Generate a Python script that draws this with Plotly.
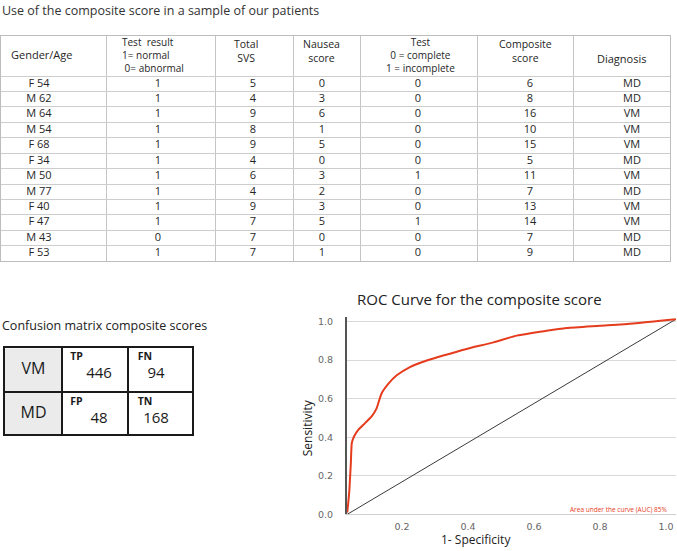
import plotly.graph_objects as go

# ---------------- data ----------------
gender_age = ["F 54", "M 62", "M 64", "M 54", "F 68", "F 34", "M 50", "M 77", "F 40", "F 47", "M 43", "F 53"]
test_result = [1, 1, 1, 1, 1, 1, 1, 1, 1, 1, 0, 1]
total_svs = [5, 4, 9, 8, 9, 4, 6, 4, 9, 7, 7, 7]
nausea_score = [0, 3, 6, 1, 5, 0, 3, 2, 3, 5, 0, 1]
test_complete = [0, 0, 0, 0, 0, 0, 1, 0, 0, 1, 0, 0]
composite_score = [6, 8, 16, 10, 15, 5, 11, 7, 13, 14, 7, 9]
diagnosis = ["MD", "MD", "VM", "VM", "VM", "MD", "VM", "MD", "VM", "VM", "MD", "MD"]

header_lines = [["Gender/Age"], ["Test  result", "1= normal", " 0= abnormal"], ["Total", "SVS"],
                ["Nausea", "score"], ["Test", "0 = complete", "1 = incomplete"],
                ["Composite", "score"], ["Diagnosis"]]

cm_rows = ["VM", "MD"]
cm_labels = [["TP", "FN"], ["FP", "TN"]]
cm_values = [[446, 94], [48, 168]]

roc_fpr = [0.034, 0.040, 0.045, 0.048, 0.055, 0.068, 0.088, 0.108, 0.123, 0.138, 0.159, 0.184,
           0.224, 0.275, 0.325, 0.396, 0.477, 0.548, 0.638, 0.699, 0.800, 0.901, 1.030]
roc_tpr = [0.009, 0.114, 0.268, 0.371, 0.405, 0.439, 0.473, 0.508, 0.550, 0.627, 0.678, 0.721,
           0.764, 0.798, 0.824, 0.858, 0.892, 0.927, 0.952, 0.966, 0.978, 0.990, 1.012]
chance_x = [0.034, 1.030]
chance_y = [0.0, 1.012]
x_ticks = [0.2, 0.4, 0.6, 0.8, 1.0]
y_ticks = [0.0, 0.2, 0.4, 0.6, 0.8, 1.0]
auc_text = "Area under the curve (AUC) 85%"

# ---------------- layout constants ----------------
W, H = 677, 551
FONT = "Open Sans"
TXT = "#262626"

col_edges = [1, 106, 215, 293, 360, 477, 573, 670]
tbl_top, hdr_bottom, tbl_bottom = 35, 76, 263
n_rows = len(gender_age)
row_h = (tbl_bottom - hdr_bottom) / n_rows
row_edges = [hdr_bottom + row_h * i for i in range(n_rows + 1)]
row_centers = [hdr_bottom + row_h * (i + 0.5) for i in range(n_rows)]
data_x = [39, 158, 253, 322, 418, 530, 632]
hdr_x = [41, 120, 246, 321, 420, 525, 621]
hdr_anchor = ["center", "left", "center", "center", "center", "center", "center"]
hdr_y = [54, 55, 50.5, 50.5, 55, 50.5, 58]

cm_xe = [5, 62, 128, 192]
cm_ye = [351, 395, 438]


def px(x):
    return x / W


def py(y):
    return 1 - y / H


fig = go.Figure()

# ---------------- table ----------------
columns = [gender_age, test_result, total_svs, nausea_score, test_complete, composite_score, diagnosis]
tx, ty, tt = [], [], []
for ci, col in enumerate(columns):
    for ri, v in enumerate(col):
        tx.append(data_x[ci])
        ty.append(row_centers[ri])
        tt.append(str(v))
fig.add_trace(go.Scatter(x=tx, y=ty, text=tt, mode="text", xaxis="x2", yaxis="y2",
                         textfont=dict(family=FONT, size=11, color=TXT),
                         hoverinfo="skip", showlegend=False))

annotations = []
for ci, lines in enumerate(header_lines):
    n = len(lines)
    annotations.append(dict(x=hdr_x[ci], y=hdr_y[ci], xref="x2", yref="y2", text="<br>".join(lines),
                            showarrow=False, xanchor=hdr_anchor[ci], yanchor="middle",
                            align="left" if hdr_anchor[ci] == "left" else "center",
                            font=dict(family=FONT, size={1: 11, 2: 10.5, 3: 10}[n], color=TXT)))

# ---------------- confusion matrix ----------------
cx, cy, ct, cs = [], [], [], []
row_lab_y = [373, 418]
lab_x = [76.5, 145]
lab_y = [360, 406]
val_x = [99, 156]
val_y = [377, 423]
for r in range(2):
    cx.append((cm_xe[0] + cm_xe[1]) / 2); cy.append(row_lab_y[r]); ct.append(cm_rows[r]); cs.append(16)
    for c in range(2):
        cx.append(lab_x[c]); cy.append(lab_y[r]); ct.append("<b>" + cm_labels[r][c] + "</b>"); cs.append(10.5)
        cx.append(val_x[c]); cy.append(val_y[r]); ct.append(str(cm_values[r][c])); cs.append(15)
fig.add_trace(go.Scatter(x=cx, y=cy, text=ct, mode="text", xaxis="x3", yaxis="y3",
                         textfont=dict(family=FONT, size=cs, color="#1a1a1a"),
                         hoverinfo="skip", showlegend=False))

# ---------------- ROC ----------------
fig.add_trace(go.Scatter(x=chance_x, y=chance_y, mode="lines", line=dict(color="#3a3a3a", width=1),
                         hoverinfo="skip", showlegend=False))
fig.add_trace(go.Scatter(x=roc_fpr, y=roc_tpr, mode="lines",
                         line=dict(color="#e63c1e", width=2, shape="spline", smoothing=0.6),
                         hoverinfo="skip", showlegend=False))

annotations += [
    dict(x=0, y=py(10), xref="paper", yref="paper", text="Use of the composite score in a sample of our patients",
         showarrow=False, xanchor="left", yanchor="middle", font=dict(family=FONT, size=12.5, color="#333")),
    dict(x=0, y=py(328), xref="paper", yref="paper", text="Confusion matrix composite scores",
         showarrow=False, xanchor="left", yanchor="middle", font=dict(family=FONT, size=12.5, color="#222")),
    dict(x=px(479), y=py(301), xref="paper", yref="paper", text="ROC Curve for the composite score",
         showarrow=False, xanchor="center", yanchor="middle", font=dict(family=FONT, size=15, color="#222")),
    dict(x=px(307), y=py(432), xref="paper", yref="paper", text="Sensitivity", textangle=-90,
         showarrow=False, xanchor="center", yanchor="middle", font=dict(family=FONT, size=12, color="#222")),
    dict(x=px(476), y=py(544), xref="paper", yref="paper", text="1- Specificity",
         showarrow=False, xanchor="center", yanchor="middle", font=dict(family=FONT, size=12, color="#222")),
    dict(x=0.858, y=0.026, xref="x", yref="y", text=auc_text, showarrow=False,
         xanchor="center", yanchor="middle", font=dict(family=FONT, size=6.5, color="#e63c1e")),
]

shapes = [dict(type="rect", xref="x3", yref="y3", x0=cm_xe[0], x1=cm_xe[1], y0=cm_ye[0], y1=cm_ye[2],
               fillcolor="#ebebeb", line=dict(width=0), layer="below")]

tickfont = dict(family="DejaVu Sans", size=9.5, color="#666")
fig.update_layout(
    width=W, height=H, margin=dict(l=0, r=0, t=0, b=0),
    paper_bgcolor="white", plot_bgcolor="rgba(0,0,0,0)", showlegend=False,
    annotations=annotations, shapes=shapes,
    xaxis=dict(domain=[px(347), px(676)], range=[0.0333, 1.0303], anchor="y",
               tickvals=x_ticks, tickformat=".1f", tickfont=tickfont, showgrid=False, zeroline=False,
               showline=True, linecolor="#cfcfcf", linewidth=1,
               ticks="outside", ticklen=3, tickcolor="rgba(0,0,0,0)"),
    yaxis=dict(domain=[py(519), py(319)], range=[0, 1.026], anchor="x",
               tickvals=y_ticks, tickformat=".1f", tickfont=tickfont, showgrid=True, gridcolor="#d9d9d9",
               gridwidth=1, zeroline=False, showline=True, linecolor="#555", linewidth=2,
               ticks="outside", ticklen=10, tickcolor="rgba(0,0,0,0)"),
    xaxis2=dict(domain=[px(col_edges[0]), px(col_edges[-1])], range=[col_edges[0], col_edges[-1]],
                anchor="y2", tickvals=col_edges[1:-1], showticklabels=False, showgrid=True,
                gridcolor="#c4c4c4", gridwidth=1, zeroline=False, showline=True, mirror=True,
                linecolor="#bdbdbd", linewidth=1, ticks=""),
    yaxis2=dict(domain=[py(tbl_bottom), py(tbl_top)], range=[tbl_bottom, tbl_top],
                anchor="x2", tickvals=row_edges[:-1], showticklabels=False, showgrid=True,
                gridcolor="#cdcdcd", gridwidth=1, zeroline=False, showline=True, mirror=True,
                linecolor="#bdbdbd", linewidth=1, ticks=""),
    xaxis3=dict(domain=[px(cm_xe[0]), px(cm_xe[-1])], range=[cm_xe[0], cm_xe[-1]],
                anchor="y3", tickvals=cm_xe[1:-1], showticklabels=False, showgrid=True,
                gridcolor="#1a1a1a", gridwidth=1.5, zeroline=False, showline=True, mirror=True,
                linecolor="#1a1a1a", linewidth=2, ticks=""),
    yaxis3=dict(domain=[py(cm_ye[-1]), py(cm_ye[0])], range=[cm_ye[-1], cm_ye[0]],
                anchor="x3", tickvals=cm_ye[1:-1], showticklabels=False, showgrid=True,
                gridcolor="#1a1a1a", gridwidth=1.5, zeroline=False, showline=True, mirror=True,
                linecolor="#1a1a1a", linewidth=2, ticks=""),
)

fig.write_html("out.html", config={"displayModeBar": False},
               post_script="document.body.style.margin='0px';")
